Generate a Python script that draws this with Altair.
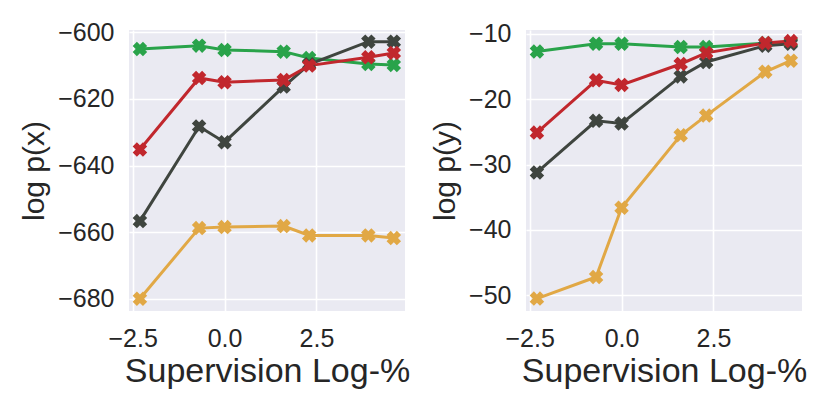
import altair as alt
import pandas as pd

# supervision percentages on natural-log scale (0.1, 0.5, 1, 5, 10, 50, 100 %)
log_pct = [-2.303, -0.693, 0.0, 1.609, 2.303, 3.912, 4.605]

series = ["green", "dark", "yellow", "red"]
colors = ["#29a34a", "#3f453f", "#e1a845", "#c1272d"]

# log p(x)
px_green = [-605.0, -604.0, -605.3, -605.8, -607.7, -609.5, -609.8]
px_dark = [-656.7, -628.3, -633.0, -616.3, -609.6, -602.8, -602.8]
px_yellow = [-680.0, -658.8, -658.5, -658.2, -661.0, -661.0, -661.8]
px_red = [-635.2, -613.7, -615.0, -614.3, -610.0, -607.5, -606.2]

# log p(y)
py_green = [-12.7, -11.5, -11.5, -12.0, -12.0, -11.4, -11.3]
py_dark = [-31.2, -23.3, -23.7, -16.5, -14.3, -11.8, -11.5]
py_yellow = [-50.5, -47.2, -36.6, -25.5, -22.5, -15.8, -14.1]
py_red = [-25.1, -17.1, -17.8, -14.6, -12.9, -11.4, -11.1]

FONT = "Liberation Sans"
X_SHAPE = (
    "M -1,-0.42 L -0.42,-1 L 0,-0.58 L 0.42,-1 L 1,-0.42 L 0.58,0 "
    "L 1,0.42 L 0.42,1 L 0,0.58 L -0.42,1 L -1,0.42 L -0.58,0 Z"
)


def make_panel(values, y_title, y_domain, y_ticks):
    rows = []
    for name, ys in zip(series, values):
        for x, y in zip(log_pct, ys):
            rows.append({"x": x, "y": y, "series": name})
    df = pd.DataFrame(rows)
    base = alt.Chart(df).encode(
        x=alt.X(
            "x:Q",
            title="Supervision Log-%",
            scale=alt.Scale(domain=[-2.6, 4.91], nice=False, zero=False),
            axis=alt.Axis(
                values=[-2.5, 0.0, 2.5], format=".1f", titleFontSize=34, titlePadding=3
            ),
        ),
        y=alt.Y(
            "y:Q",
            title=y_title,
            scale=alt.Scale(domain=y_domain, nice=False, zero=False),
            axis=alt.Axis(values=y_ticks, format="d", titleFontSize=30),
        ),
        color=alt.Color(
            "series:N", scale=alt.Scale(domain=series, range=colors), legend=None
        ),
    )
    lines = base.mark_line(strokeWidth=3)
    points = base.mark_point(shape=X_SHAPE, filled=True, size=210, opacity=1)
    return (lines + points).properties(width=276, height=281)


left = make_panel(
    [px_green, px_dark, px_yellow, px_red],
    "log p(x)",
    [-683.7, -599.3],
    [-680, -660, -640, -620, -600],
)
right = make_panel(
    [py_green, py_dark, py_yellow, py_red],
    "log p(y)",
    [-52.4, -9.4],
    [-50, -40, -30, -20, -10],
)

chart = (
    alt.hconcat(left, right, spacing=20)
    .properties(background="white", padding={"left": 11, "top": 12, "right": 5, "bottom": 5})
    .configure_view(fill="#EAEAF2", stroke=None)
    .configure_axis(
        grid=True,
        gridColor="white",
        gridWidth=1.6,
        domain=False,
        ticks=False,
        tickSize=0,
        labelFont=FONT,
        labelFontSize=25,
        labelColor="#262626",
        labelPadding=15,
        titleFont=FONT,
        titleFontWeight="normal",
        titleColor="#262626",
        titlePadding=8,
    )
)

chart.save("out.html", embed_options={"renderer": "svg", "actions": False})
